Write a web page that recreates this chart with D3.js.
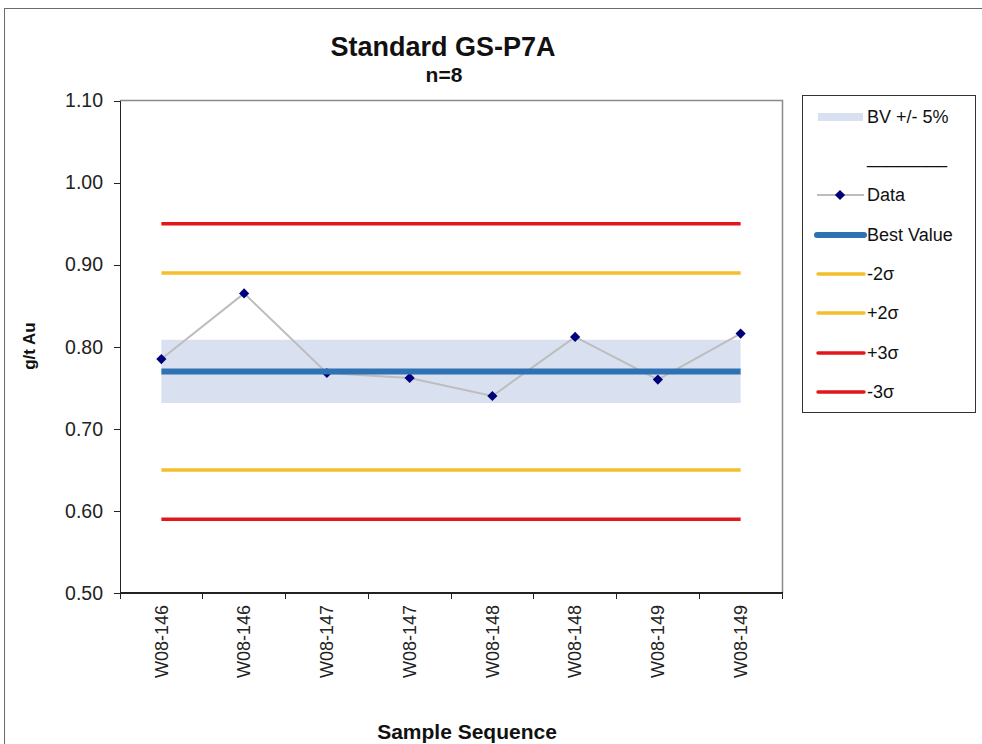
<!DOCTYPE html>
<html>
<meta charset="utf-8">
<head>
  <title>Standard GS-P7A</title>
</head>

<style>
body { margin: 0; background: white; }
text {
  font-family: "Liberation Sans", Arial, sans-serif;
  fill: #111;
}
.axis path, .axis line { stroke: #222; shape-rendering: crispEdges; }
.axis text { font-size: 19.5px; fill: #222; }
</style>

<body>
  <svg width="982" height="744"></svg>

  <script src="https://cdnjs.cloudflare.com/ajax/libs/d3/7.8.5/d3.min.js"></script>
  <script>

// data
var samples = ["W08-146", "W08-146", "W08-147", "W08-147", "W08-148", "W08-148", "W08-149", "W08-149"];
var assays = [0.785, 0.865, 0.768, 0.762, 0.740, 0.812, 0.760, 0.816];
var bestValue = 0.77;
var bandLimits = [0.7315, 0.8085];   // BV +/- 5%
var sigmaLabels = ["-2σ", "+2σ", "+3σ", "-3σ"];
var sigmaValues = [0.65, 0.89, 0.95, 0.59];
var sigmaColors = ["#f4bf2c", "#f4bf2c", "#e2161b", "#e2161b"];
var yTicks = [0.50, 0.60, 0.70, 0.80, 0.90, 1.00, 1.10];

var svg = d3.select('svg');

// outer chart frame
svg.append('rect')
  .attr('x', 4.5).attr('y', 8.5)
  .attr('width', 990).attr('height', 760)
  .attr('fill', 'none')
  .attr('stroke', '#6b6b6b');

var plotLeft = 120, plotRight = 782, plotTop = 100.5, plotBottom = 593;

var x = d3.scaleBand()
  .domain(d3.range(samples.length))
  .range([plotLeft, plotRight]);

var y = d3.scaleLinear()
  .domain([0.5, 1.1])
  .range([plotBottom, plotTop]);

// plot frame (top + right)
svg.append('path')
  .attr('d', 'M' + plotLeft + ',' + plotTop + 'H' + (plotRight + 0.5) + 'V' + plotBottom)
  .attr('fill', 'none')
  .attr('stroke', '#8a8a8a')
  .attr('stroke-width', 1.5);

var xFirst = x(0) + x.bandwidth() / 2;
var xLast = x(samples.length - 1) + x.bandwidth() / 2;

// BV +/- 5% band
svg.append('rect')
  .attr('x', xFirst)
  .attr('y', y(bandLimits[1]))
  .attr('width', xLast - xFirst)
  .attr('height', y(bandLimits[0]) - y(bandLimits[1]))
  .attr('fill', '#d9e1f1');

// sigma lines
svg.selectAll('.sigma')
  .data(sigmaValues)
  .enter()
  .append('line')
  .attr('class', 'sigma')
  .attr('x1', xFirst).attr('x2', xLast)
  .attr('y1', function(d) { return y(d); })
  .attr('y2', function(d) { return y(d); })
  .attr('stroke', function(d, i) { return sigmaColors[i]; })
  .attr('stroke-width', 3.5);

// data line + markers
var line = d3.line()
  .x(function(d, i) { return x(i) + x.bandwidth() / 2; })
  .y(function(d) { return y(d); });

svg.append('path')
  .datum(assays)
  .attr('d', line)
  .attr('fill', 'none')
  .attr('stroke', '#bdbdbd')
  .attr('stroke-width', 2);

var diamond = d3.symbol().type(d3.symbolSquare).size(52);

svg.selectAll('.pt')
  .data(assays)
  .enter()
  .append('path')
  .attr('class', 'pt')
  .attr('d', diamond)
  .attr('transform', function(d, i) {
    return 'translate(' + (x(i) + x.bandwidth() / 2) + ',' + y(d) + ') rotate(45)';
  })
  .attr('fill', '#00007a');

// best value
svg.append('line')
  .attr('x1', xFirst).attr('x2', xLast)
  .attr('y1', y(bestValue)).attr('y2', y(bestValue))
  .attr('stroke', '#2f72b3')
  .attr('stroke-width', 6);

// axes
svg.append('g')
  .attr('class', 'axis')
  .attr('transform', 'translate(' + plotLeft + ',0)')
  .call(d3.axisLeft(y).tickValues(yTicks).tickFormat(d3.format('.2f')).tickSize(6).tickSizeOuter(0).tickPadding(11))
  .select('.domain').attr('stroke-width', 1.5);

var xAxis = svg.append('g')
  .attr('class', 'axis')
  .attr('transform', 'translate(0,' + plotBottom + ')');

xAxis.append('line')
  .attr('x1', plotLeft).attr('x2', plotRight + 0.5)
  .attr('stroke', '#222').attr('stroke-width', 1.5);

xAxis.selectAll('.xtick')
  .data(d3.range(samples.length + 1))
  .enter()
  .append('line')
  .attr('x1', function(i) { return i < samples.length ? x(i) : plotRight; })
  .attr('x2', function(i) { return i < samples.length ? x(i) : plotRight; })
  .attr('y1', 0).attr('y2', 6);

xAxis.selectAll('.xlab')
  .data(samples)
  .enter()
  .append('text')
  .attr('transform', function(d, i) {
    return 'translate(' + (x(i) + x.bandwidth() / 2) + ',12) rotate(-90)';
  })
  .attr('dy', '0.35em')
  .attr('text-anchor', 'end')
  .style('font-size', '18px')
  .text(function(d) { return d; });

// titles
svg.append('text')
  .attr('x', 443).attr('y', 56)
  .attr('text-anchor', 'middle')
  .style('font-size', '27px').style('font-weight', 'bold')
  .text('Standard GS-P7A');

svg.append('text')
  .attr('x', 444).attr('y', 82)
  .attr('text-anchor', 'middle')
  .style('font-size', '21px').style('font-weight', 'bold')
  .text('n=8');

svg.append('text')
  .attr('transform', 'translate(35,346) rotate(-90)')
  .attr('text-anchor', 'middle')
  .style('font-size', '17px').style('font-weight', 'bold')
  .text('g/t Au');

svg.append('text')
  .attr('x', 467).attr('y', 739)
  .attr('text-anchor', 'middle')
  .style('font-size', '21px').style('font-weight', 'bold')
  .text('Sample Sequence');

// legend
var legend = svg.append('g');

legend.append('rect')
  .attr('x', 802.5).attr('y', 95.5)
  .attr('width', 173).attr('height', 317)
  .attr('fill', 'white')
  .attr('stroke', '#333');

var legendLabels = ["BV +/- 5%", "________", "Data", "Best Value"].concat(sigmaLabels);
var legendY = [117, 157, 195, 235, 274, 313, 353, 392];

legendLabels.forEach(function(label, i) {
  var ly = legendY[i];
  if (i === 0) {
    legend.append('rect')
      .attr('x', 818).attr('y', ly - 4)
      .attr('width', 45).attr('height', 8)
      .attr('fill', '#d9e1f1');
  } else if (i === 2) {
    legend.append('line')
      .attr('x1', 817).attr('x2', 864).attr('y1', ly).attr('y2', ly)
      .attr('stroke', '#bdbdbd').attr('stroke-width', 2);
    legend.append('path')
      .attr('d', diamond)
      .attr('transform', 'translate(840,' + ly + ') rotate(45)')
      .attr('fill', '#00007a');
  } else if (i === 3) {
    legend.append('line')
      .attr('x1', 817).attr('x2', 864).attr('y1', ly).attr('y2', ly)
      .attr('stroke', '#2f72b3').attr('stroke-width', 6)
      .attr('stroke-linecap', 'round');
  } else if (i > 3) {
    legend.append('line')
      .attr('x1', 818).attr('x2', 864).attr('y1', ly).attr('y2', ly)
      .attr('stroke', sigmaColors[i - 4]).attr('stroke-width', 3.5)
      .attr('stroke-linecap', 'round');
  }
  legend.append('text')
    .attr('x', 867).attr('y', ly)
    .attr('dy', '0.36em')
    .style('font-size', '18px')
    .text(label);
});

  </script>
</body>
</html>
